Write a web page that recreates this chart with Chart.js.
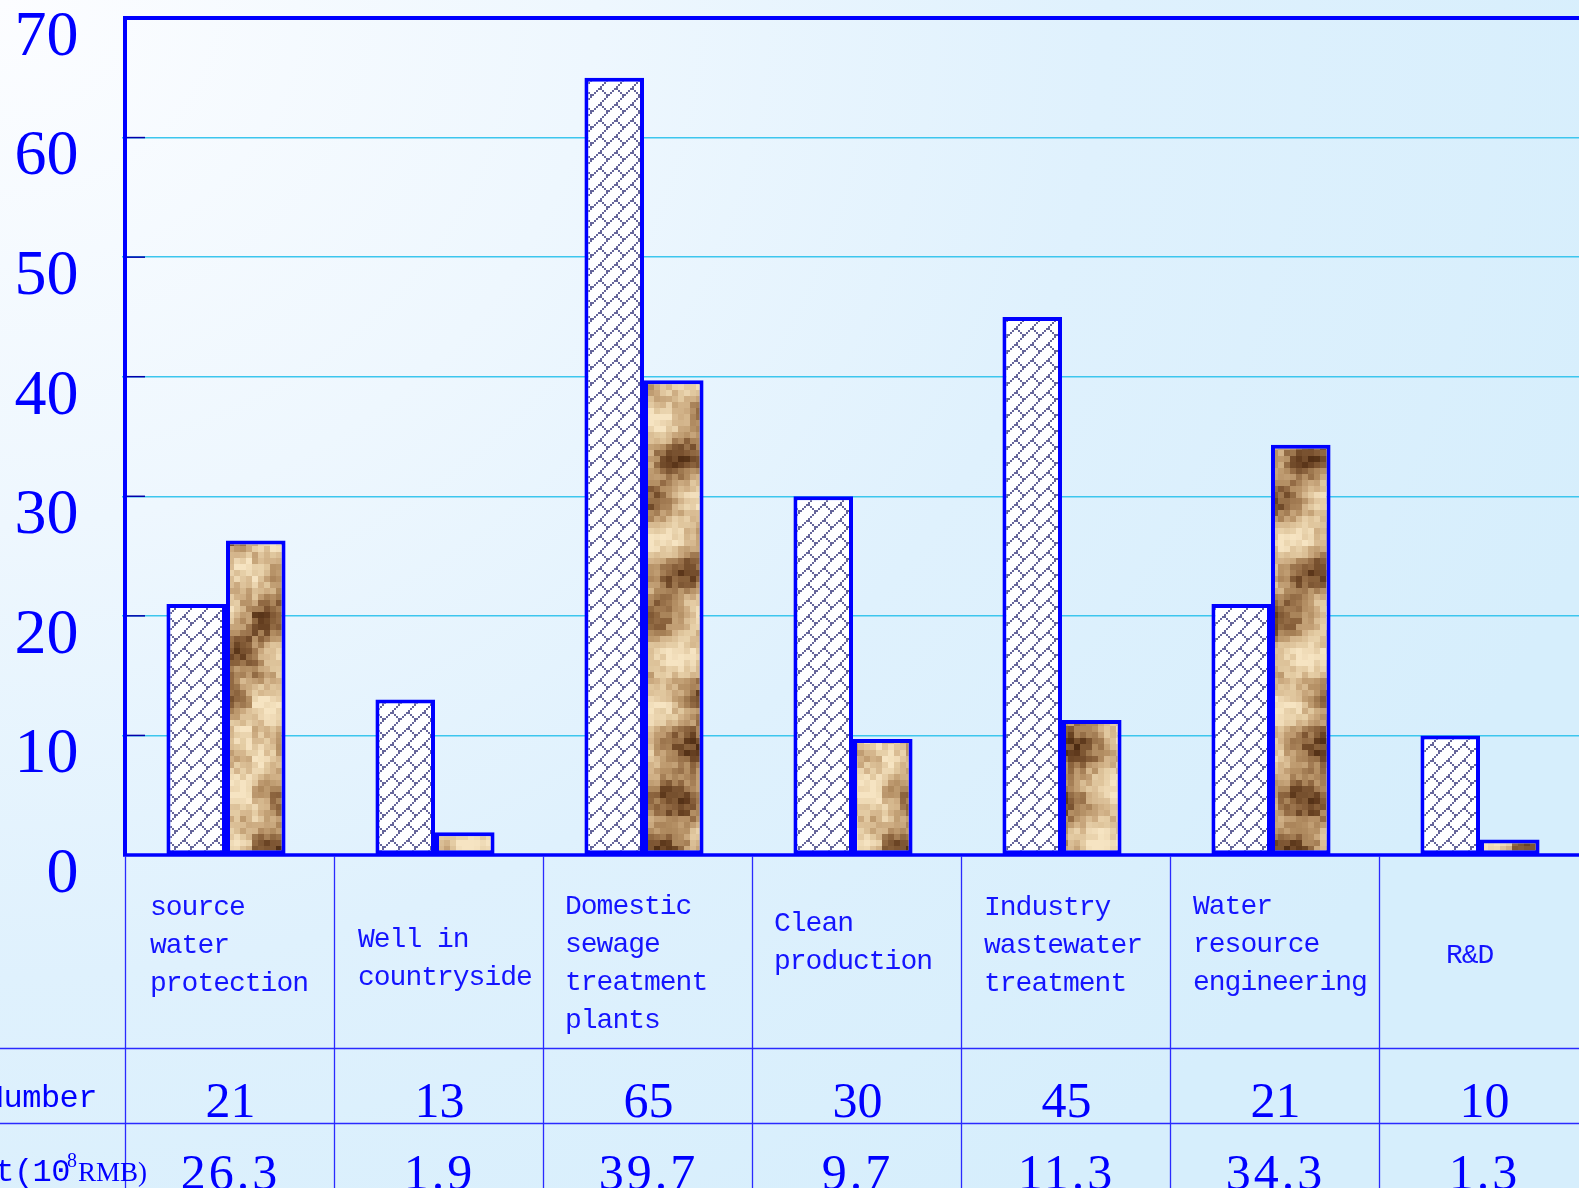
<!DOCTYPE html>
<html>
<head>
<meta charset="utf-8">
<script src="https://cdn.jsdelivr.net/npm/chart.js@4.4.1/dist/chart.umd.min.js"></script>
<style>
html,body{margin:0;padding:0;overflow:hidden;width:1579px;height:1188px;}
body{background:radial-gradient(ellipse 1700px 1500px at 0 0,#fcfdff 0%,#eef7fe 35%,#dff1fd 65%,#d6eefc 100%);}
#wrap{position:absolute;left:0;top:0;width:1600px;height:1188px;}
</style>
</head>
<body>
<div id="wrap"><canvas id="c"></canvas></div>
<script>
// ---- data ----
const categories = ["source water protection","Well in countryside","Domestic sewage treatment plants","Clean production","Industry wastewater treatment","Water resource engineering","R&D"];
const categoryLines = [["source","water","protection"],["Well in","countryside"],["Domestic","sewage","treatment","plants"],["Clean","production"],["Industry","wastewater","treatment"],["Water","resource","engineering"],["R&D"]];
const numberValues = [21,13,65,30,45,21,10];
const costValues = [26.3,1.9,39.7,9.7,11.3,34.3,1.3];
const rowLabels = ["Number","Cost(10","8","RMB)"];
const yTicks = [0,10,20,30,40,50,60,70];

// ---- layout (not data) ----
const labelFirstBaseline = [915,947,914,931,915,914,963];
const labelIndent = [25,24,22,22,23,23,67];
const AXIS_W = 121.5, FRAME_SHIFT = 3.5;

const BLUE = '#0000ff';

function makeHatch(){
  const c=document.createElement('canvas'); c.width=16; c.height=16;
  const g=c.getContext('2d');
  g.fillStyle='#ffffff'; g.fillRect(0,0,16,16);
  g.fillStyle='#66669a';
  for(let k=0;k<8;k++){ g.fillRect(k*2,14-k*2,2,2); }
  for(let k=0;k<4;k++){ g.fillRect(8+k*2,8+k*2,2,2); }
  return g.createPattern(c,'repeat');
}
function hash(i,j){ const s=Math.sin(i*12.9898+j*78.233)*43758.5453; return s-Math.floor(s); }
function makeTexture(){
  const c=document.createElement('canvas'); c.width=126; c.height=900;
  const g=c.getContext('2d');
  const pal=[[62,32,10],[98,60,30],[140,100,62],[180,143,100],[208,176,134],[228,204,164],[246,228,194]];
  const B=6;
  for(let i=0;i<21;i++){
    for(let j=0;j<150;j++){
      const x=i*B,y=j*B;
      let v=0.6+0.28*Math.sin(x*0.05+y*0.035+1.6*Math.sin(y*0.012))
            +0.14*Math.sin(y*0.11-x*0.03)
            +0.26*(hash(i,j)-0.5);
      v=Math.max(0,Math.min(0.999,v));
      const f=v*(pal.length-1), k=Math.floor(f), t=f-k;
      const a=pal[k], b=pal[Math.min(k+1,pal.length-1)];
      g.fillStyle='rgb('+Math.round(a[0]+(b[0]-a[0])*t)+','+Math.round(a[1]+(b[1]-a[1])*t)+','+Math.round(a[2]+(b[2]-a[2])*t)+')';
      g.fillRect(x,y,B,B);
    }
  }
  return g.createPattern(c,'repeat');
}

const framePlugin = {
  id:'frame',
  afterDatasetsDraw(chart){
    const {ctx,chartArea:a,scales:{x,y}}=chart;
    const L=a.left+FRAME_SHIFT;
    ctx.save();
    ctx.strokeStyle='#0000aa'; ctx.lineWidth=1.5;
    yTicks.forEach(v=>{ if(v===0||v===70) return; const py=y.getPixelForValue(v); ctx.beginPath(); ctx.moveTo(L,py); ctx.lineTo(L+20,py); ctx.stroke(); });
    ctx.strokeStyle=BLUE;
    ctx.lineWidth=4;
    const top=y.getPixelForValue(70), bot=y.getPixelForValue(0);
    ctx.beginPath(); ctx.moveTo(L-2,top); ctx.lineTo(chart.width,top); ctx.stroke();
    ctx.beginPath(); ctx.moveTo(L,top); ctx.lineTo(L,bot); ctx.stroke();
    ctx.lineWidth=3.5;
    ctx.beginPath(); ctx.moveTo(L-2,bot); ctx.lineTo(chart.width,bot); ctx.stroke();

    const colW=(x.getPixelForValue(1)-x.getPixelForValue(0));
    const colLeft=i=>x.getPixelForValue(i)-colW/2+FRAME_SHIFT;
    const colMid=i=>x.getPixelForValue(i)+FRAME_SHIFT;
    const row1=1048, row2=1123;
    ctx.strokeStyle='#2a2aff'; ctx.lineWidth=1.3;
    for(let i=0;i<=categories.length;i++){
      const px=Math.round(colLeft(i))+0.5;
      ctx.beginPath(); ctx.moveTo(px,bot+1); ctx.lineTo(px,chart.height); ctx.stroke();
    }
    [row1,row2].forEach(r=>{ ctx.beginPath(); ctx.moveTo(0,r+0.5); ctx.lineTo(chart.width,r+0.5); ctx.stroke(); });

    ctx.fillStyle='#1414ff';
    ctx.font='28px "Liberation Mono"';
    ctx.letterSpacing='-1px';
    ctx.textAlign='left'; ctx.textBaseline='alphabetic';
    categoryLines.forEach((lines,i)=>{
      lines.forEach((s,k)=>{ ctx.fillText(s,colLeft(i)+labelIndent[i],labelFirstBaseline[i]+k*38); });
    });
    ctx.fillStyle=BLUE;
    ctx.font='50px "Liberation Serif"';
    ctx.textAlign='center';
    ctx.letterSpacing='0px';
    numberValues.forEach((v,i)=>ctx.fillText(String(v),colMid(i)+1,1117));
    ctx.letterSpacing='3px';
    costValues.forEach((v,i)=>ctx.fillText(v.toFixed(1),colMid(i)+1,1189));
    ctx.letterSpacing='-0.5px';
    ctx.font='32px "Liberation Mono"';
    ctx.textAlign='right';
    ctx.fillText(rowLabels[0],97,1107);
    ctx.fillText(rowLabels[1],70,1181);
    ctx.letterSpacing='0px';
    ctx.textAlign='left';
    ctx.font='20px "Liberation Serif"';
    ctx.fillText(rowLabels[2],67,1167);
    ctx.font='27px "Liberation Serif"';
    ctx.fillText(rowLabels[3],78,1181);
    ctx.restore();
  }
};

const ctx=document.getElementById('c').getContext('2d');
new Chart(ctx,{
  type:'bar',
  data:{
    labels:categories,
    datasets:[
      {label:'Number',data:numberValues,backgroundColor:makeHatch(),borderColor:BLUE,borderWidth:4,borderSkipped:false,categoryPercentage:0.57,barPercentage:1.0},
      {label:'Cost',data:costValues,backgroundColor:makeTexture(),borderColor:BLUE,borderWidth:4,borderSkipped:false,categoryPercentage:0.57,barPercentage:1.0}
    ]
  },
  options:{
    responsive:true,maintainAspectRatio:false,animation:false,
    layout:{padding:{left:0,top:18,right:15.5,bottom:333}},
    plugins:{legend:{display:false},tooltip:{enabled:false}},
    scales:{
      x:{display:false,offset:true,grid:{display:false}},
      y:{
        min:0,max:70,
        afterFit(s){ s.width=AXIS_W; s.paddingTop=0; s.paddingBottom=0; },
        afterBuildTicks(s){ s.ticks=yTicks.map(v=>({value:v})); },
        border:{display:false},
        grid:{drawTicks:false,tickLength:0,lineWidth:1.5,color:c=>(c.tick&&(c.tick.value===0||c.tick.value===70))?'rgba(0,0,0,0)':'#3cc6ee'},
        ticks:{color:BLUE,font:{family:'"Liberation Serif"',size:64},padding:43,labelOffset:20,autoSkip:false}
      }
    }
  },
  plugins:[framePlugin]
});
</script>
</body>
</html>
